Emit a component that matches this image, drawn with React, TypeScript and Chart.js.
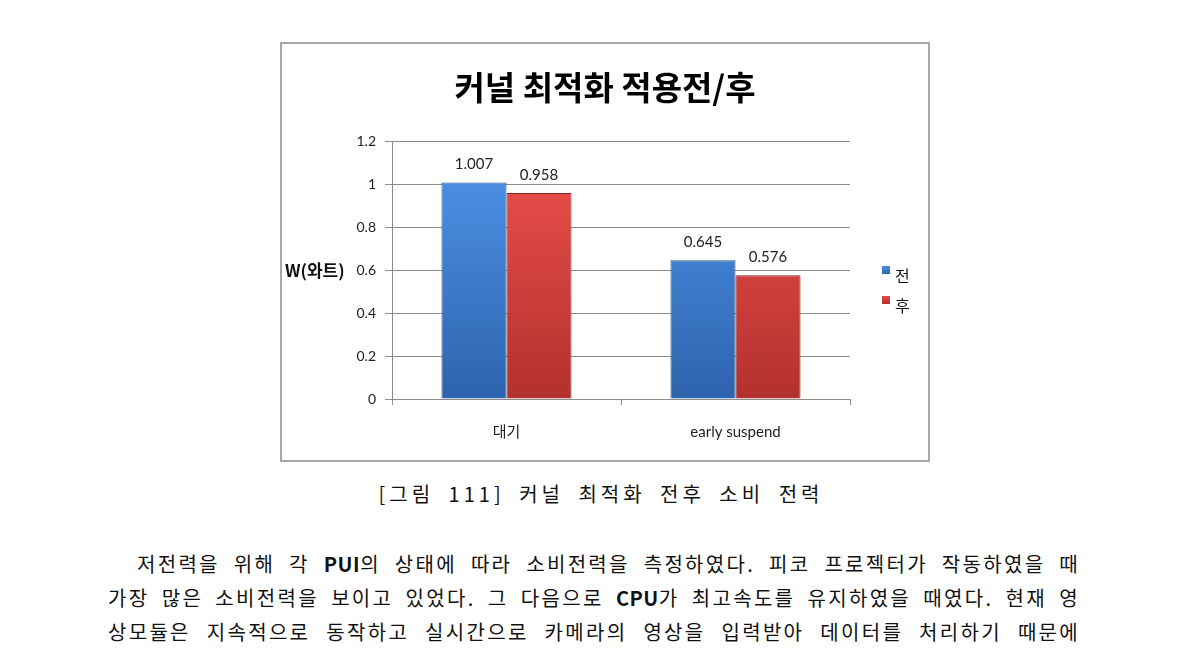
import React, { useEffect, useRef } from "react";
import { Chart, registerables } from "chart.js";

Chart.register(...registerables);

const titleText = "커널 최적화 적용전/후";
const yAxisTitle = "W(와트)";
const categories = ["대기", "early suspend"];
const seriesLabels = ["전", "후"];
const beforeValues = [1.007, 0.645];
const afterValues = [0.958, 0.576];
const yMin = 0;
const yMax = 1.2;
const yStep = 0.2;
const captionText = "[그림 111] 커널 최적화 전후 소비 전력";
const paragraphLines = [
  ["저전력을 위해 각 ", "PUI", "의 상태에 따라 소비전력을 측정하였다. 피코 프로젝터가 작동하였을 때"],
  ["가장 많은 소비전력을 보이고 있었다. 그 다음으로 ", "CPU", "가 최고속도를 유지하였을 때였다. 현재 영"],
  ["상모듈은 지속적으로 동작하고 실시간으로 카메라의 영상을 입력받아 데이터를 처리하기 때문에"],
];

const FONT = "Lato, 'Noto Sans CJK KR', sans-serif";
const KFONT = "'Noto Sans CJK KR', sans-serif";

const palette = [
  { top: "#4b8fe2", bottom: "#2d63ad", border: "#24508c" },
  { top: "#e64c48", bottom: "#b3312e", border: "#872523" },
];

function makeGradient(chart: any, i: number) {
  const area = chart.chartArea;
  if (!area) return palette[i].top;
  const g = chart.ctx.createLinearGradient(0, area.top + 40, 0, area.bottom);
  g.addColorStop(0, palette[i].top);
  g.addColorStop(1, palette[i].bottom);
  return g;
}

const valueLabels = {
  id: "valueLabels",
  afterDatasetsDraw(chart: any) {
    const ctx = chart.ctx;
    ctx.save();
    ctx.font = `15px ${FONT}`;
    ctx.fillStyle = "#222";
    ctx.textAlign = "center";
    ctx.textBaseline = "middle";
    chart.data.datasets.forEach((ds: any, i: number) => {
      const meta = chart.getDatasetMeta(i);
      meta.data.forEach((bar: any, j: number) => {
        ctx.fillText(Number(ds.data[j]).toFixed(3), bar.x, bar.y - 18);
      });
    });
    ctx.restore();
  },
};

const sideDecor = {
  id: "sideDecor",
  afterDraw(chart: any) {
    const ctx = chart.ctx;
    const area = chart.chartArea;
    ctx.save();
    // chart title
    ctx.font = `bold 33px ${KFONT}`;
    ctx.fillStyle = "#000";
    ctx.textAlign = "center";
    ctx.textBaseline = "middle";
    ctx.fillText(titleText, chart.width / 2, 43);
    // y-axis title, horizontal
    ctx.font = `bold 17px ${KFONT}`;
    ctx.fillStyle = "#111";
    ctx.textAlign = "left";
    ctx.textBaseline = "middle";
    ctx.fillText(yAxisTitle, 3, (area.top + area.bottom) / 2 + 1);
    // legend
    const lx = area.right + 32;
    chart.data.datasets.forEach((ds: any, i: number) => {
      const ty = 232 + i * 30;
      const by = ty - 10;
      const g = ctx.createLinearGradient(0, by, 0, by + 8);
      g.addColorStop(0, palette[i].top);
      g.addColorStop(1, palette[i].bottom);
      ctx.fillStyle = g;
      ctx.fillRect(lx, by, 8, 8);
      ctx.fillStyle = "#111";
      ctx.font = `16px ${KFONT}`;
      ctx.fillText(ds.label, lx + 13, ty);
    });
    ctx.restore();
  },
};

function ChartBox() {
  const ref = useRef<HTMLCanvasElement | null>(null);
  useEffect(() => {
    if (!ref.current) return;
    const chart = new Chart(ref.current, {
      type: "bar",
      data: {
        labels: categories,
        datasets: [
          {
            label: seriesLabels[0],
            data: beforeValues,
            backgroundColor: (c: any) => makeGradient(c.chart, 0),
            borderColor: palette[0].border,
            borderWidth: 1,
            categoryPercentage: 0.568,
            barPercentage: 1,
          },
          {
            label: seriesLabels[1],
            data: afterValues,
            backgroundColor: (c: any) => makeGradient(c.chart, 1),
            borderColor: palette[1].border,
            borderWidth: 1,
            categoryPercentage: 0.568,
            barPercentage: 1,
          },
        ],
      },
      options: {
        responsive: false,
        animation: false,
        layout: { padding: { left: 0, right: 78, top: 97, bottom: 0 } },
        plugins: {
          legend: { display: false },
          tooltip: { enabled: false },
          title: { display: false },
        },
        scales: {
          x: {
            offset: true,
            grid: {
              display: true,
              offset: true,
              drawOnChartArea: false,
              drawTicks: true,
              tickLength: 6,
              color: "#8c8c8c",
            },
            border: { display: true, color: "#8c8c8c" },
            ticks: {
              color: "#222",
              padding: 20,
              font: { family: FONT, size: 15, lineHeight: 1 },
            },
          },
          y: {
            min: yMin,
            max: yMax,
            afterFit: (s: any) => {
              s.width = 110;
            },
            grid: {
              color: "#8c8c8c",
              tickLength: 7,
              drawTicks: true,
            },
            border: { display: true, color: "#8c8c8c" },
            ticks: {
              stepSize: yStep,
              color: "#222",
              padding: 9,
              font: { family: FONT, size: 14 },
              callback: (v: any) => String(Number(Number(v).toFixed(1))),
            },
          },
        },
      },
      plugins: [valueLabels, sideDecor],
    });
    return () => chart.destroy();
  }, []);
  return <canvas ref={ref} width={646} height={416} style={{ display: "block" }} />;
}

export default function App() {
  return (
    <div
      style={{
        position: "absolute",
        left: 0,
        top: 0,
        width: 1190,
        height: 659,
        background: "#fff",
        overflow: "hidden",
      }}
    >
      <div
        style={{
          position: "absolute",
          left: 280,
          top: 42,
          width: 650,
          height: 420,
          border: "2px solid #a9a9a9",
          boxSizing: "border-box",
          background: "#fff",
        }}
      >
        <ChartBox />
      </div>
      <div
        style={{
          position: "absolute",
          left: 301,
          top: 480,
          width: 600,
          textAlign: "center",
          fontFamily: KFONT,
          fontSize: 20,
          letterSpacing: 4,
          wordSpacing: 6,
          color: "#111",
          lineHeight: "28px",
          whiteSpace: "nowrap",
        }}
      >
        {captionText}
      </div>
      {paragraphLines.map((parts, i) => (
        <div
          key={i}
          style={{
            position: "absolute",
            left: i === 0 ? 137 : 108,
            top: 547 + i * 34,
            width: i === 0 ? 943 : 972,
            whiteSpace: "nowrap",
            textAlign: "justify",
            textAlignLast: "justify",
            fontFamily: KFONT,
            fontSize: 20,
            letterSpacing: 2.3,
            lineHeight: "34px",
            color: "#111",
          }}
        >
          {parts.map((p, k) =>
            k === 1 ? (
              <b key={k} style={{ fontWeight: 700, letterSpacing: 0.5 }}>
                {p}
              </b>
            ) : (
              <span key={k}>{p}</span>
            )
          )}
        </div>
      ))}
    </div>
  );
}
